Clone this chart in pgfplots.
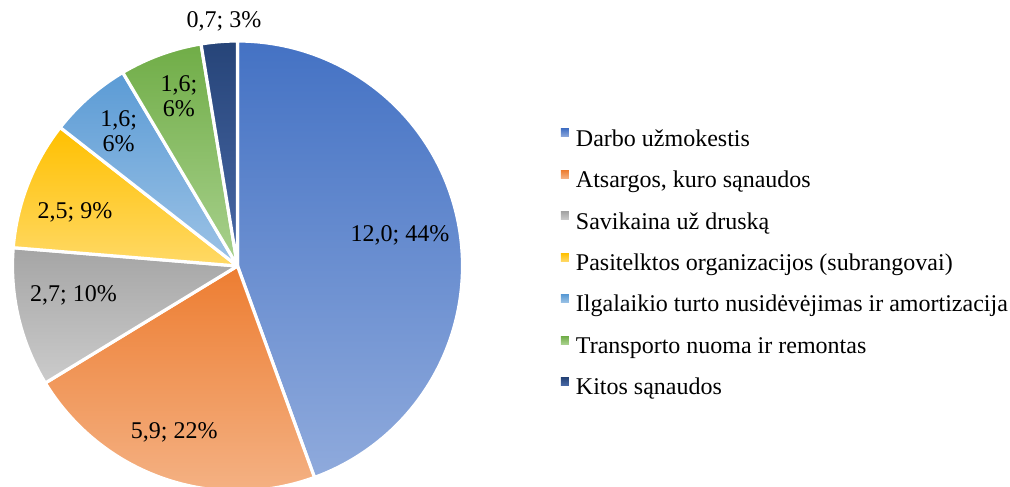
\documentclass[border=0pt]{standalone}
\usepackage{fontspec}
\setmainfont{Liberation Serif}
\usepackage{pgfplots}
\usepackage{pgfplotstable}
\pgfplotsset{compat=1.18}

\definecolor{c0t}{HTML}{4472C4}\definecolor{c0b}{HTML}{8FAADC}
\definecolor{c1t}{HTML}{ED7D31}\definecolor{c1b}{HTML}{F4B183}
\definecolor{c2t}{HTML}{A5A5A5}\definecolor{c2b}{HTML}{CBCBCB}
\definecolor{c3t}{HTML}{FFC000}\definecolor{c3b}{HTML}{FFD966}
\definecolor{c4t}{HTML}{5B9BD5}\definecolor{c4b}{HTML}{9DC3E6}
\definecolor{c5t}{HTML}{70AD47}\definecolor{c5b}{HTML}{A9D18E}
\definecolor{c6t}{HTML}{264478}\definecolor{c6b}{HTML}{4A6AA8}

% value, label radius (fraction of pie radius), label angle offset, two-line label flag
\pgfplotstableread{
val lr da br
12.0 0.735 0.8 0
5.9 0.79 -1.5 0
2.7 0.74 -3.3 0
2.5 0.76 3.2 0
1.6 0.80 0 1
1.6 0.80 -1 1
0.7 1.09 -1.5 0
}\piedata

\newcommand\lblfont{\fontsize{18}{18.75}\selectfont}

\pgfplotsset{
  slice/.style n args={2}{top color=#1, bottom color=#2, draw=white, line width=2.4pt, line join=round,
    legend image code/.code={\path[top color=#1, bottom color=#2, draw=none] (0pt,2.5pt) rectangle (6pt,8.5pt);}},
}

\begin{document}
\begin{tikzpicture}
\path[use as bounding box] (0,0) rectangle (757.5pt,364.5pt);
\def\total{0}
\pgfplotsforeachungrouped \i in {0,...,6}{%
  \pgfplotstablegetelem{\i}{val}\of\piedata
  \pgfmathsetmacro\total{\total+\pgfplotsretval}%
}
\begin{axis}[at={(0,0)}, anchor=south west, scale only axis,
  width=757.5pt, height=364.5pt,
  xmin=0, xmax=1010, ymin=0, ymax=486, hide axis, clip=false,
  legend style={at={(0.5554,0.735)}, anchor=north west, draw=none, fill=none,
    inner sep=0pt, outer sep=0pt, font=\fontsize{18}{21.6}\selectfont,
    row sep=14.1pt, column sep=5.25pt,
    nodes={inner sep=0pt, text height=13pt, text depth=4pt}},
  legend cell align=left,
  legend entries={Darbo užmokestis, {Atsargos, kuro sąnaudos}, Savikaina už druską,
    Pasitelktos organizacijos (subrangovai), Ilgalaikio turto nusidėvėjimas ir amortizacija,
    Transporto nuoma ir remontas, Kitos sąnaudos},
]
\def\cum{0}
\pgfplotsforeachungrouped \i in {0,...,6}{%
  \pgfplotstablegetelem{\i}{val}\of\piedata \let\v\pgfplotsretval
  \pgfplotstablegetelem{\i}{lr}\of\piedata \let\lr\pgfplotsretval
  \pgfplotstablegetelem{\i}{da}\of\piedata \let\da\pgfplotsretval
  \pgfplotstablegetelem{\i}{br}\of\piedata \let\br\pgfplotsretval
  \pgfmathsetmacro\aS{90-360*(\cum+\v)/\total}%
  \pgfmathsetmacro\aE{90-360*\cum/\total}%
  \pgfmathsetmacro\cum{\cum+\v}%
  \pgfmathsetmacro\am{(\aS+\aE)/2+\da}%
  \pgfmathsetmacro\pA{\aS-1}%
  \pgfmathsetmacro\pB{\aS+0.5}%
  \pgfmathsetmacro\pC{\aE+0.5}%
  \pgfmathsetmacro\pD{\aE+2}%
  \pgfmathsetmacro\lo{\aS-0.5}%
  \pgfmathsetmacro\hi{\aE+1}%
  \pgfmathsetmacro\lx{237.5+\lr*225*cos(\am)}%
  \pgfmathsetmacro\ly{220+\lr*225*sin(\am)}%
  \pgfmathtruncatemacro\vi{\v}%
  \pgfmathtruncatemacro\vf{round(10*\v)-10*\vi}%
  \pgfmathtruncatemacro\pct{round(100*\v/\total)}%
  \edef\cmd{%
    \noexpand\addplot[slice={c\i t}{c\i b}, samples at={\pA,\aS,\pB,...,\aE,\pC,\pD}]
      ({237.5+((x<\lo||x>\hi)?0:225)*cos(max(\aS,min(\aE,x)))},
       {220+((x<\lo||x>\hi)?0:225)*sin(max(\aS,min(\aE,x)))});
    \noexpand\node[align=center, font=\noexpand\lblfont, inner sep=0pt] at (axis cs:\lx,\ly)
      {\vi{,}\vf;\ifnum\br=1 \noexpand\\\else\space\fi\pct\noexpand\%};
  }%
  \cmd
}
\end{axis}
\end{tikzpicture}
\end{document}
